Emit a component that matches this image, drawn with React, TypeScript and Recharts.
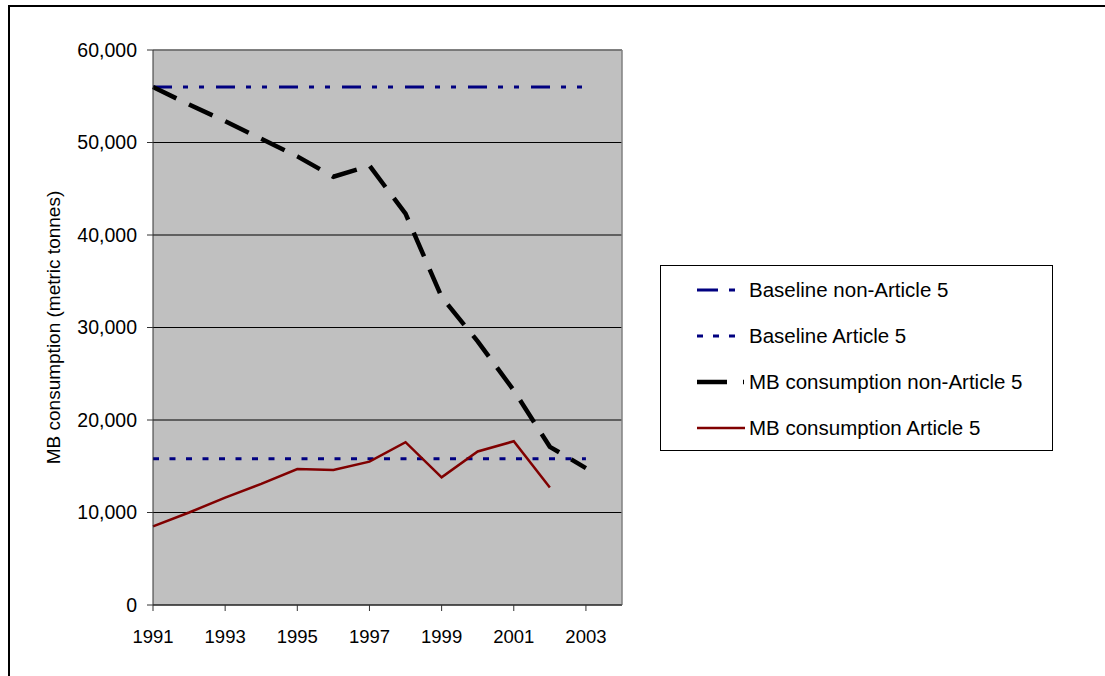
import { CartesianGrid, Line, LineChart, ReferenceLine, XAxis, YAxis } from "recharts";

const years = [1991, 1992, 1993, 1994, 1995, 1996, 1997, 1998, 1999, 2000, 2001, 2002, 2003];
const baselineNonA5 = [56000, 56000, 56000, 56000, 56000, 56000, 56000, 56000, 56000, 56000, 56000, 56000, 56000];
const baselineA5 = [15800, 15800, 15800, 15800, 15800, 15800, 15800, 15800, 15800, 15800, 15800, 15800, 15800];
const mbNonA5 = [56000, 54100, 52300, 50400, 48500, 46300, 47500, 42300, 33300, 28500, 23200, 17100, 14800];
const mbA5: (number | null)[] = [8500, 10000, 11600, 13100, 14700, 14600, 15500, 17600, 13800, 16600, 17700, 12700, null];

const yTicks = [0, 10000, 20000, 30000, 40000, 50000, 60000];
const xTicks = [1991, 1993, 1995, 1997, 1999, 2001, 2003];

const data = years.map((year, i) => ({
  year,
  baseNon: baselineNonA5[i],
  base: baselineA5[i],
  mbNon: mbNonA5[i],
  mb: mbA5[i],
}));

const font = "'Liberation Sans', Arial, sans-serif";

const series = [
  { key: "baseNon", label: "Baseline non-Article 5", color: "#000080", width: 3, dash: "19 11 5 11 5 12", legendDash: "21 11 6 20" },
  { key: "base", label: "Baseline Article 5", color: "#000080", width: 3, dash: "6 10.5", legendDash: "6 10" },
  { key: "mbNon", label: "MB consumption non-Article 5", color: "#000000", width: 4.5, dash: "26 14", legendDash: "30 16 1 10" },
  { key: "mb", label: "MB consumption Article 5", color: "#800000", width: 2.5, dash: undefined, legendDash: undefined },
];

function LegendBox() {
  return (
    <div
      style={{
        position: "absolute",
        left: 660,
        top: 265,
        width: 393,
        height: 186,
        border: "1px solid #000",
        background: "#fff",
        boxSizing: "border-box",
        fontFamily: font,
        fontSize: 20.5,
        color: "#000",
      }}
    >
      {series.map((s, i) => (
        <div
          key={s.key}
          style={{ position: "absolute", left: 0, top: 24 + i * 46 - 15, height: 30, display: "flex", alignItems: "center" }}
        >
          <svg width={88} height={10} style={{ flex: "none" }}>
            <line x1={36} y1={5} x2={84} y2={5} stroke={s.color} strokeWidth={s.width} strokeDasharray={s.legendDash} />
          </svg>
          <span style={{ whiteSpace: "nowrap" }}>{s.label}</span>
        </div>
      ))}
    </div>
  );
}

export default function App() {
  return (
    <div style={{ position: "absolute", left: 0, top: 0, width: 1105, height: 676, background: "#fff", overflow: "hidden" }}>
      <div
        style={{
          position: "absolute",
          left: 8,
          top: 5,
          width: 1120,
          height: 700,
          borderTop: "2px solid #000",
          borderLeft: "2px solid #000",
        }}
      />
      <LineChart
        width={1105}
        height={676}
        data={data}
        margin={{ top: 50, right: 483, bottom: 41, left: 0 }}
        style={{ fontFamily: font }}
      >
        <CartesianGrid vertical={false} stroke="#000" fill="#c0c0c0" fillOpacity={1} />
        <XAxis
          type="number"
          dataKey="year"
          domain={[1991, 2004]}
          ticks={xTicks}
          interval={0}
          height={30}
          tick={{ fontSize: 18.5, fill: "#000" }}
          tickMargin={19}
          stroke="#333"
          tickLine={{ stroke: "#333" }}
        />
        <YAxis
          domain={[0, 60000]}
          ticks={yTicks}
          width={153}
          tick={{ fontSize: 19.5, fill: "#000" }}
          tickMargin={10}
          tickFormatter={(v: number) => v.toLocaleString("en-US")}
          stroke="#333"
          label={{
            value: "MB consumption (metric tonnes)",
            angle: -90,
            position: "insideLeft",
            dx: 48,
            style: { fontSize: 19, fill: "#000", textAnchor: "middle" },
          }}
        />
        <ReferenceLine y={60000} stroke="#808080" strokeWidth={1.5} />
        <ReferenceLine x={2004} stroke="#808080" strokeWidth={1.5} />
        {series.map((s) => (
          <Line
            key={s.key}
            type="linear"
            dataKey={s.key}
            name={s.label}
            stroke={s.color}
            strokeWidth={s.width}
            strokeDasharray={s.dash}
            dot={false}
            activeDot={false}
            isAnimationActive={false}
          />
        ))}
      </LineChart>
      <LegendBox />
    </div>
  );
}
